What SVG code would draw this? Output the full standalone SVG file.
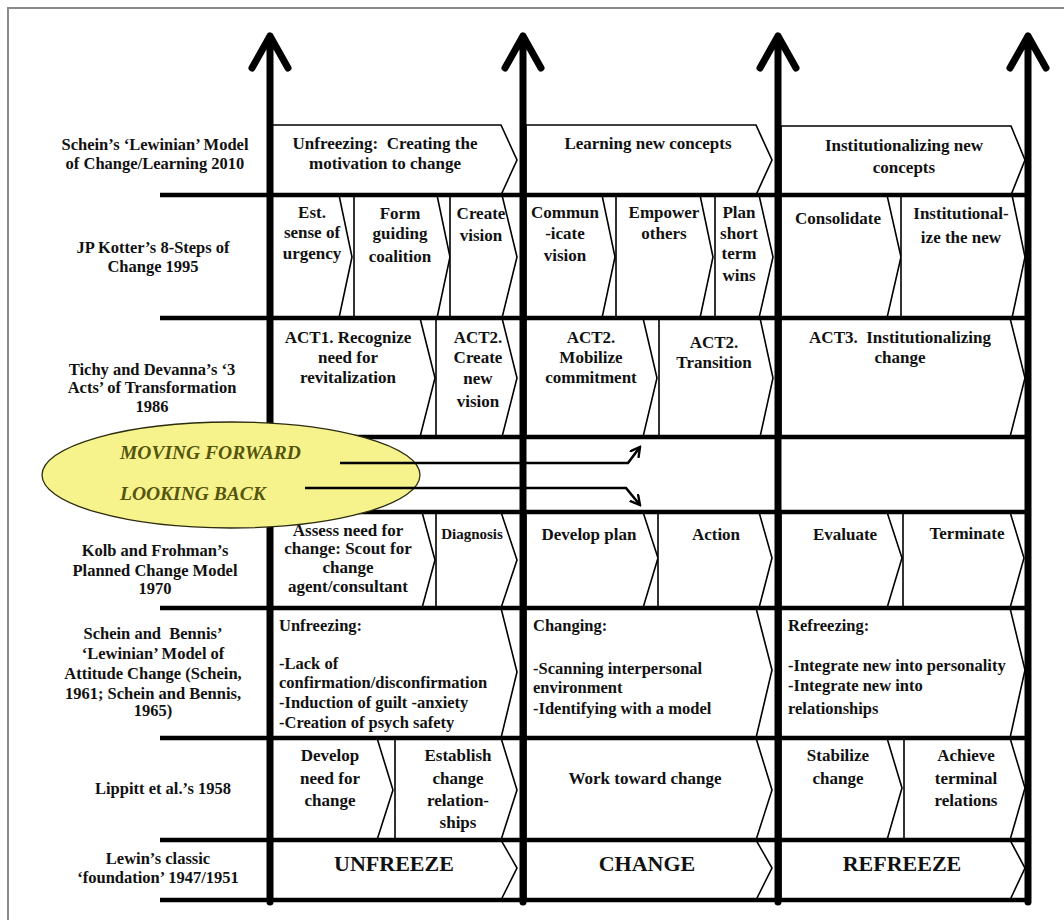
<svg xmlns="http://www.w3.org/2000/svg" width="1064" height="920" viewBox="0 0 1064 920">
  <defs>
    <style>
      .cell { fill: #ffffff; stroke: #000000; stroke-width: 1.6; stroke-linejoin: miter; }
      .grid { stroke: #000000; stroke-width: 4.5; fill: none; }
      .axis { stroke: #000000; stroke-width: 7; fill: none; stroke-linecap: round; stroke-linejoin: round; }
      .frame { stroke: #8a8a8a; stroke-width: 2; fill: none; }
      text { font-family: "Liberation Serif", "Times New Roman", serif; font-weight: bold; fill: #111111; }
      .lbl { font-size: 16.5px; text-anchor: middle; }
      .t { font-size: 17px; text-anchor: middle; }
      .tl { font-size: 16.5px; text-anchor: start; }
      .sm { font-size: 15px; text-anchor: middle; }
      .big { font-size: 22px; text-anchor: middle; }
      .note { font-size: 19.5px; font-style: italic; fill: #55550e; }
      .link { stroke: #000000; stroke-width: 2.6; fill: none; }
    </style>
    <marker id="openhead" viewBox="0 0 12 12" refX="10" refY="6" markerWidth="12" markerHeight="12" markerUnits="userSpaceOnUse" orient="auto">
      <path d="M1,1 L10,6 L1,11" fill="none" stroke="#000000" stroke-width="2.4" stroke-linecap="round"/>
    </marker>
  </defs>

  <rect width="1064" height="920" fill="#ffffff"/>
  <path class="frame" d="M8,920 V8 H1064"/>

  <!-- row labels -->
  <g id="labels">
    <text class="lbl" x="155" y="150">Schein’s ‘Lewinian’ Model</text>
    <text class="lbl" x="155" y="169">of Change/Learning 2010</text>
    <text class="lbl" x="153" y="253">JP Kotter’s 8-Steps of</text>
    <text class="lbl" x="153" y="272">Change 1995</text>
    <text class="lbl" x="152" y="375">Tichy and Devanna’s ‘3</text>
    <text class="lbl" x="152" y="393">Acts’ of Transformation</text>
    <text class="lbl" x="152" y="412">1986</text>
    <text class="lbl" x="155" y="556">Kolb and Frohman’s</text>
    <text class="lbl" x="155" y="576">Planned Change Model</text>
    <text class="lbl" x="155" y="594">1970</text>
    <text class="lbl" x="153" y="639" xml:space="preserve">Schein and  Bennis’</text>
    <text class="lbl" x="153" y="659">‘Lewinian’ Model of</text>
    <text class="lbl" x="153" y="679">Attitude Change (Schein,</text>
    <text class="lbl" x="153" y="699">1961; Schein and Bennis,</text>
    <text class="lbl" x="153" y="716">1965)</text>
    <text class="lbl" x="163" y="794">Lippitt et al.’s 1958</text>
    <text class="lbl" x="158" y="864">Lewin’s classic</text>
    <text class="lbl" x="158" y="883">‘foundation’ 1947/1951</text>
  </g>

  <!-- Schein 2010 -->
  <g id="schein2010">
    <path class="cell" d="M272,125 H501 L517,160 L501,195 H272 Z"/>
    <path class="cell" d="M526,125 H756 L772,160 L756,195 H526 Z"/>
    <path class="cell" d="M781,126 H1011 L1025,160 L1011,195 H781 Z"/>
    <text class="t" x="385" y="149" xml:space="preserve">Unfreezing:  Creating the</text>
    <text class="t" x="385" y="169">motivation to change</text>
    <text class="t" x="648" y="149">Learning new concepts</text>
    <text class="t" x="904" y="151">Institutionalizing new</text>
    <text class="t" x="904" y="173">concepts</text>
  </g>

  <!-- Kotter 1995 -->
  <g id="kotter">
    <path class="cell" d="M272,195 H339 L352,257 L339,318 H272 Z"/>
    <path class="cell" d="M354,195 H437 L450,257 L437,318 H354 Z"/>
    <path class="cell" d="M450,195 H502 L517,257 L502,318 H450 Z"/>
    <path class="cell" d="M526,195 H602 L615,257 L602,318 H526 Z"/>
    <path class="cell" d="M616,195 H700 L713,257 L700,318 H616 Z"/>
    <path class="cell" d="M715,195 H759 L773,257 L759,318 H715 Z"/>
    <path class="cell" d="M781,195 H887 L901,257 L887,318 H781 Z"/>
    <path class="cell" d="M901,195 H1012 L1025,257 L1012,318 H901 Z"/>
    <text class="t" x="312" y="218">Est.</text>
    <text class="t" x="312" y="238">sense of</text>
    <text class="t" x="312" y="259">urgency</text>
    <text class="t" x="400" y="219">Form</text>
    <text class="t" x="400" y="239">guiding</text>
    <text class="t" x="400" y="262">coalition</text>
    <text class="t" x="481" y="219">Create</text>
    <text class="t" x="481" y="241">vision</text>
    <text class="t" x="565" y="218">Commun</text>
    <text class="t" x="565" y="239">-icate</text>
    <text class="t" x="565" y="261">vision</text>
    <text class="t" x="664" y="218">Empower</text>
    <text class="t" x="664" y="239">others</text>
    <text class="t" x="739" y="218">Plan</text>
    <text class="t" x="739" y="239">short</text>
    <text class="t" x="739" y="259">term</text>
    <text class="t" x="739" y="281">wins</text>
    <text class="t" x="838" y="224">Consolidate</text>
    <text class="t" x="961" y="219">Institutional-</text>
    <text class="t" x="961" y="243">ize the new</text>
  </g>

  <!-- Tichy and Devanna 1986 -->
  <g id="tichy">
    <path class="cell" d="M272,318 H420 L435,378 L420,437 H272 Z"/>
    <path class="cell" d="M436,318 H502 L517,378 L502,437 H436 Z"/>
    <path class="cell" d="M526,318 H643 L657,378 L643,437 H526 Z"/>
    <path class="cell" d="M659,318 H760 L773,378 L760,437 H659 Z"/>
    <path class="cell" d="M781,318 H1010 L1025,378 L1010,437 H781 Z"/>
    <text class="t" x="348" y="343">ACT1. Recognize</text>
    <text class="t" x="348" y="363">need for</text>
    <text class="t" x="348" y="383">revitalization</text>
    <text class="t" x="478" y="343">ACT2.</text>
    <text class="t" x="478" y="363">Create</text>
    <text class="t" x="478" y="384">new</text>
    <text class="t" x="478" y="407">vision</text>
    <text class="t" x="591" y="343">ACT2.</text>
    <text class="t" x="591" y="363">Mobilize</text>
    <text class="t" x="591" y="383">commitment</text>
    <text class="t" x="714" y="348">ACT2.</text>
    <text class="t" x="714" y="368">Transition</text>
    <text class="t" x="900" y="343" xml:space="preserve">ACT3.  Institutionalizing</text>
    <text class="t" x="900" y="363">change</text>
  </g>

  <!-- Kolb and Frohman 1970 -->
  <g id="kolb">
    <path class="cell" d="M272,512 H422 L435,560 L422,608 H272 Z"/>
    <path class="cell" d="M436,512 H501 L517,560 L501,608 H436 Z"/>
    <path class="cell" d="M526,512 H643 L658,558 L643,608 H526 Z"/>
    <path class="cell" d="M658,512 H759 L772,558 L759,608 H658 Z"/>
    <path class="cell" d="M781,512 H887 L902,558 L887,608 H781 Z"/>
    <path class="cell" d="M903,512 H1010 L1024,558 L1010,608 H903 Z"/>
    <text class="t" x="348" y="536">Assess need for</text>
    <text class="t" x="348" y="554">change: Scout for</text>
    <text class="t" x="348" y="573">change</text>
    <text class="t" x="348" y="592">agent/consultant</text>
    <text class="sm" x="472" y="539">Diagnosis</text>
    <text class="t" x="589" y="540">Develop plan</text>
    <text class="t" x="716" y="540">Action</text>
    <text class="t" x="845" y="540">Evaluate</text>
    <text class="t" x="967" y="539">Terminate</text>
  </g>

  <!-- Schein and Bennis 1961/1965 -->
  <g id="schein-bennis">
    <path class="cell" d="M272,608 H501 L517,672 L501,738 H272 Z"/>
    <path class="cell" d="M526,608 H756 L772,670 L756,738 H526 Z"/>
    <path class="cell" d="M781,608 H1010 L1025,670 L1010,738 H781 Z"/>
    <text class="tl" x="279" y="631">Unfreezing:</text>
    <text class="tl" x="279" y="669">-Lack of</text>
    <text class="tl" x="279" y="688">confirmation/disconfirmation</text>
    <text class="tl" x="279" y="708">-Induction of guilt -anxiety</text>
    <text class="tl" x="279" y="728">-Creation of psych safety</text>
    <text class="tl" x="533" y="631">Changing:</text>
    <text class="tl" x="533" y="674">-Scanning interpersonal</text>
    <text class="tl" x="533" y="693">environment</text>
    <text class="tl" x="533" y="714">-Identifying with a model</text>
    <text class="tl" x="788" y="631">Refreezing:</text>
    <text class="tl" x="788" y="671">-Integrate new into personality</text>
    <text class="tl" x="788" y="691">-Integrate new into</text>
    <text class="tl" x="788" y="714">relationships</text>
  </g>

  <!-- Lippitt et al. 1958 -->
  <g id="lippitt">
    <path class="cell" d="M272,738 H377 L393,790 L377,840 H272 Z"/>
    <path class="cell" d="M395,738 H501 L517,790 L501,840 H395 Z"/>
    <path class="cell" d="M526,738 H756 L772,790 L756,840 H526 Z"/>
    <path class="cell" d="M781,738 H887 L902,788 L887,840 H781 Z"/>
    <path class="cell" d="M904,738 H1010 L1025,788 L1010,840 H904 Z"/>
    <text class="t" x="330" y="761">Develop</text>
    <text class="t" x="330" y="784">need for</text>
    <text class="t" x="330" y="806">change</text>
    <text class="t" x="458" y="761">Establish</text>
    <text class="t" x="458" y="784">change</text>
    <text class="t" x="458" y="806">relation-</text>
    <text class="t" x="458" y="828">ships</text>
    <text class="t" x="645" y="784">Work toward change</text>
    <text class="t" x="838" y="761">Stabilize</text>
    <text class="t" x="838" y="784">change</text>
    <text class="t" x="966" y="761">Achieve</text>
    <text class="t" x="966" y="784">terminal</text>
    <text class="t" x="966" y="806">relations</text>
  </g>

  <!-- Lewin 1947/1951 -->
  <g id="lewin">
    <path class="cell" d="M272,840 H501 L517,868 L501,900 H272 Z"/>
    <path class="cell" d="M526,840 H756 L772,868 L756,900 H526 Z"/>
    <path class="cell" d="M781,840 H1010 L1025,868 L1010,900 H781 Z"/>
    <text class="big" x="394" y="871">UNFREEZE</text>
    <text class="big" x="647" y="871">CHANGE</text>
    <text class="big" x="902" y="871">REFREEZE</text>
  </g>

  <!-- row separators -->
  <g id="grid">
    <path class="grid" d="M160,195 H1028 M160,318 H1028 M160,437 H1028 M160,512 H1028 M160,608 H1028 M160,738 H1028 M160,840 H1028 M160,900 H1031"/>
  </g>

  <!-- upward time axes -->
  <g id="axes">
    <path class="axis" d="M270,902 V36 M252,68 L270,36 L288,68"/>
    <path class="axis" d="M523,902 V36 M505,68 L523,36 L541,68"/>
    <path class="axis" d="M778,902 V36 M760,68 L778,36 L796,68"/>
    <path class="axis" d="M1028,902 V36 M1010,68 L1028,36 L1046,68"/>
  </g>

  <!-- callout -->
  <g id="callout">
    <ellipse cx="231" cy="475" rx="189" ry="53" fill="#f6f28c" stroke="#2c2c10" stroke-width="1.3"/>
    <text class="note" x="120" y="459">MOVING FORWARD</text>
    <text class="note" x="120" y="500">LOOKING BACK</text>
  </g>

  <g id="connectors">
    <path class="link" d="M340,463 H628 L640,447" marker-end="url(#openhead)"/>
    <path class="link" d="M305,488 H626 L640,505" marker-end="url(#openhead)"/>
  </g>
</svg>
